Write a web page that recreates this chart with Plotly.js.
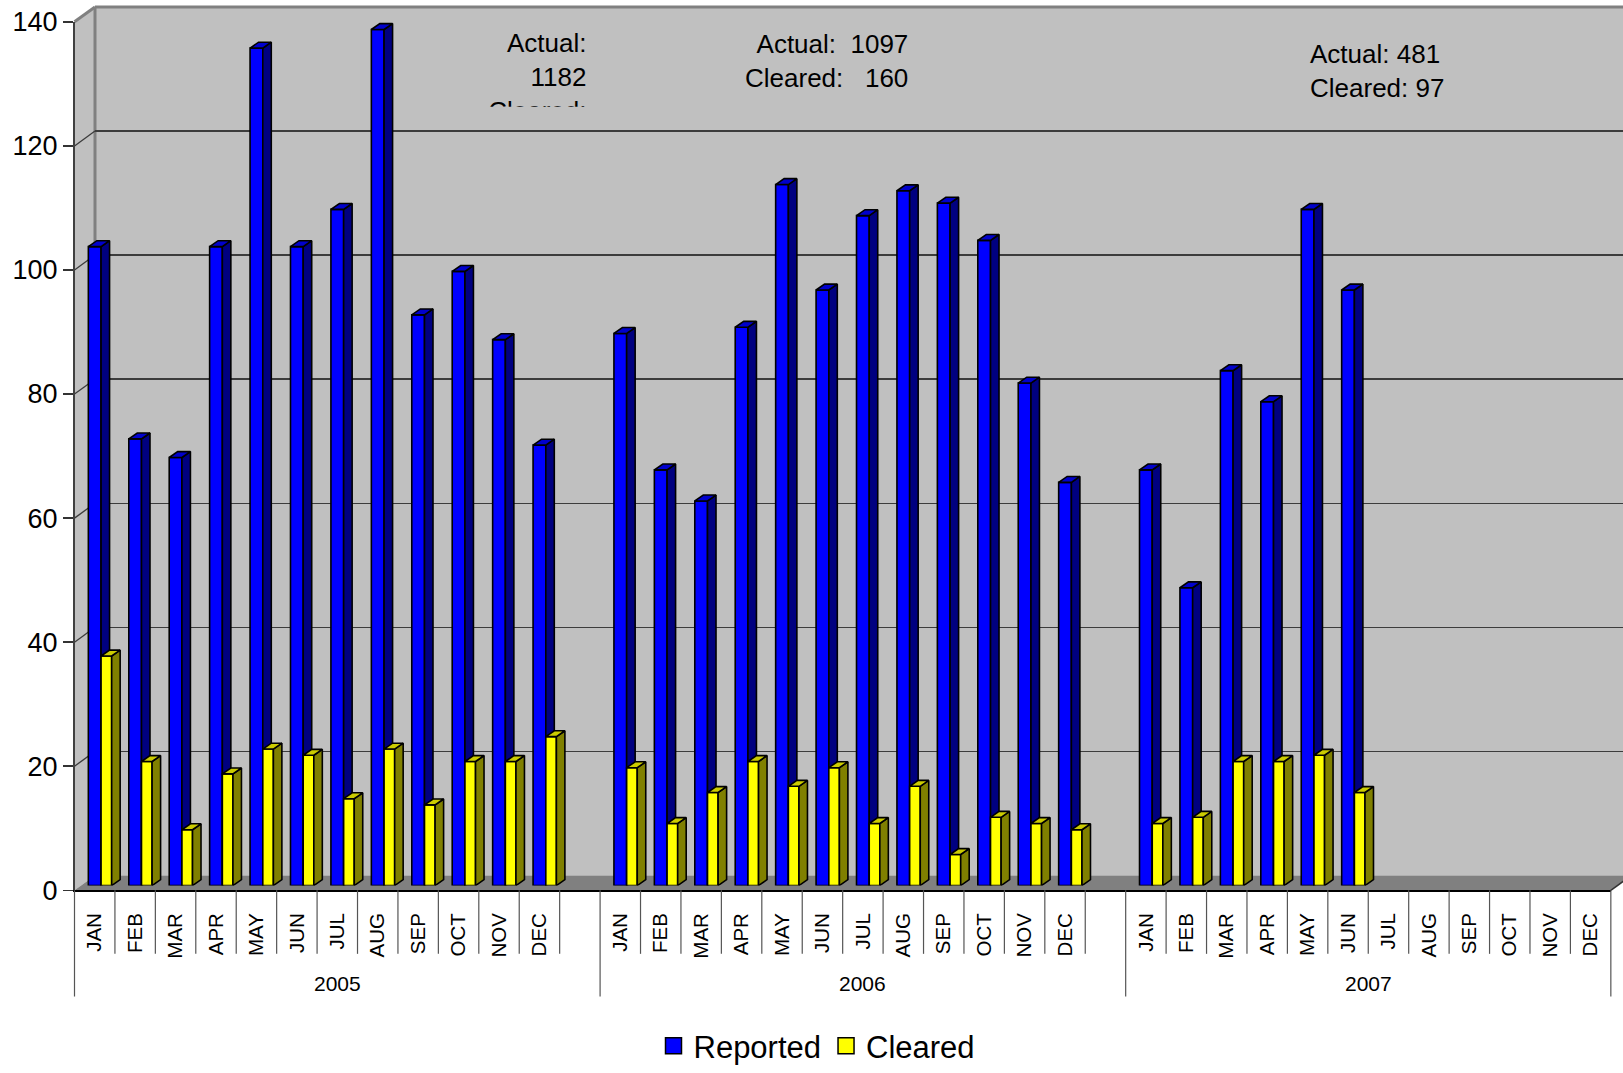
<!DOCTYPE html>
<html><head><meta charset="utf-8">
<script src="https://cdn.plot.ly/plotly-3.0.1.min.js"></script>
<style>html,body{margin:0;padding:0;background:#fff}#chart{width:1623px;height:1073px}</style>
</head><body><div id="chart"></div>
<script>
// ---------------- data ----------------
const years = ['2005', '2006', '2007'];
const months = ['JAN','FEB','MAR','APR','MAY','JUN','JUL','AUG','SEP','OCT','NOV','DEC'];
const reported2005 = [103, 72, 69, 103, 135, 103, 109, 138, 92, 99, 88, 71];
const cleared2005  = [37, 20, 9, 18, 22, 21, 14, 22, 13, 20, 20, 24];
const reported2006 = [89, 67, 62, 90, 113, 96, 108, 112, 110, 104, 81, 65];
const cleared2006  = [19, 10, 15, 20, 16, 19, 10, 16, 5, 11, 10, 9];
const reported2007 = [67, 48, 83, 78, 109, 96, null, null, null, null, null, null];
const cleared2007  = [10, 11, 20, 20, 21, 15, null, null, null, null, null, null];
const yTicks = [0, 20, 40, 60, 80, 100, 120, 140];
const noteTexts = [
  'Actual:<br>1182<br>Cleared:<br>240',
  'Actual:\u00a0\u00a01097<br>Cleared:\u00a0\u00a0\u00a0160',
  'Actual: 481<br>Cleared: 97'
];
const seriesNames = ['Reported', 'Cleared'];

// ---------------- geometry / style ----------------
const FONT = 'Liberation Sans, Arial, sans-serif';
const W = 1623, H = 1073;
const SLOT = 40.43, PXU = 6.25;
const FX0 = 74.5, FY0 = 897;       // front origin (category -0.5, value 0)
const DX = 20.5, DY = 15;          // depth vector to back wall
const BAR_D = 0.32;                // depth fraction of bars
const VMAX = 140;
const px = x => x / W, py = y => 1 - y / H;

// categories with a blank slot after each year except the last
const catX = [], catText = [], groupStart = [], groupLen = [];
let idx = 0;
years.forEach((y, g) => {
  groupStart.push(idx);
  months.forEach(m => { catX.push(idx); catText.push(m); idx++; });
  if (g < years.length - 1) idx++;
  groupLen.push(idx - groupStart[g]);
});
const NCAT = idx;
const FX1 = FX0 + NCAT * SLOT;

function xAx(x0) {
  let x1 = x0 + NCAT * SLOT, r1 = NCAT - 0.5;
  if (x1 > W) { r1 = -0.5 + (W - x0) / SLOT; x1 = W; }
  return {domain: [x0 / W, x1 / W], range: [-0.5, r1]};
}
function yAx(y0, vmax) {
  return {domain: [py(y0), py(y0 - vmax * PXU)], range: [0, vmax]};
}
const hidden = {showgrid:false, zeroline:false, showticklabels:false, ticks:'', showline:false, fixedrange:true};

// bar geometry (in category units)
const BAR = [
  {off: -0.32, w: 0.315, front: '#0000FF', side: '#000080', top: '#0000CC', ax: ['x2','y2']},
  {off: -0.005, w: 0.262, front: '#FFFF00', side: '#808000', top: '#CCCC00', ax: ['x3','y3']}
];
const BDX = 0.21, BDY = 0.95;

const reportedAll = [reported2005, reported2006, reported2007];
const clearedAll = [cleared2005, cleared2006, cleared2007];
function series(arrs) {
  const xs = [], vs = [];
  arrs.forEach((a, g) => a.forEach((v, m) => { if (v !== null) { xs.push(groupStart[g] + m); vs.push(v); } }));
  return {xs, vs};
}
const S = [series(reportedAll), series(clearedAll)];

const traces = [];
traces.push({type:'scatter', x:[null], y:[null], xaxis:'x', yaxis:'y', showlegend:false, hoverinfo:'skip'});

S.forEach((s, k) => {
  const b = BAR[k];
  traces.push({type:'bar', x:s.xs, y:s.vs, xaxis:b.ax[0], yaxis:b.ax[1], width:b.w, offset:b.off,
    marker:{color:b.front, line:{color:'#000', width:1.6}}, showlegend:false, hoverinfo:'skip'});
  const sx = [], sy = [], tx = [], ty = [];
  s.xs.forEach((x, i) => {
    const v = s.vs[i], L = x + b.off, R = L + b.w;
    sx.push(R, R + BDX, R + BDX, R, R, null); sy.push(0, BDY, v + BDY, v, 0, null);
    tx.push(L, R, R + BDX, L + BDX, L, null); ty.push(v, v, v + BDY, v + BDY, v, null);
  });
  traces.push({type:'scatter', mode:'lines', x:sx, y:sy, xaxis:b.ax[0], yaxis:b.ax[1], fill:'toself',
    fillcolor:b.side, line:{color:'#000', width:1.6}, showlegend:false, hoverinfo:'skip'});
  traces.push({type:'scatter', mode:'lines', x:tx, y:ty, xaxis:b.ax[0], yaxis:b.ax[1], fill:'toself',
    fillcolor:b.top, line:{color:'#000', width:1.6}, showlegend:false, hoverinfo:'skip'});
});
// legend entries
S.forEach((s, k) => {
  traces.push({type:'scatter', mode:'markers', x:[null], y:[null], xaxis:'x4', yaxis:'y4', name:seriesNames[k],
    marker:{symbol:'square', size:16, color:BAR[k].front, line:{color:'#000', width:1.5}}, hoverinfo:'skip'});
});
// clipped text box (the source text box is too small, so its last lines are cut off)
const CLIP_Y = 107.5;
traces.push({type:'scatter', mode:'text', x:[586.5], y:[97], text:[noteTexts[0]], textposition:'middle left',
  textfont:{family:FONT, size:26, color:'#000'}, xaxis:'x5', yaxis:'y5', cliponaxis:true, showlegend:false, hoverinfo:'skip'});

// ---------------- shapes ----------------
const shapes = [];
const backTop = FY0 - DY - VMAX * PXU, backBot = FY0 - DY, frontTop = FY0 - VMAX * PXU;
shapes.push({type:'rect', xref:'paper', yref:'paper', x0:px(FX0 + DX), x1:1, y0:py(backBot), y1:py(backTop),
  fillcolor:'#C0C0C0', line:{width:0}, layer:'below'});
shapes.push({type:'path', xref:'paper', yref:'paper', layer:'below', fillcolor:'#C0C0C0', line:{width:0},
  path:`M${px(FX0)},${py(FY0)} L${px(FX0)},${py(frontTop)} L${px(FX0+DX)},${py(backTop)} L${px(FX0+DX)},${py(backBot)} Z`});
shapes.push({type:'path', xref:'paper', yref:'paper', layer:'below', fillcolor:'#808080', line:{width:0},
  path:`M${px(FX0)},${py(FY0)} L${px(FX1)},${py(FY0)} L${px(FX1+DX)},${py(backBot)} L${px(FX0+DX)},${py(backBot)} Z`});
shapes.push({type:'line', xref:'paper', yref:'paper', layer:'below', x0:px(FX1), y0:py(FY0), x1:px(FX1+DX), y1:py(backBot), line:{color:'#333', width:1.5}});
// wall borders
const grey = {color:'#808080', width:3};
shapes.push({type:'line', xref:'paper', yref:'paper', layer:'below', x0:px(FX0+DX), y0:py(backTop), x1:1, y1:py(backTop), line:grey});
shapes.push({type:'line', xref:'paper', yref:'paper', layer:'below', x0:px(FX0+DX), y0:py(backTop), x1:px(FX0+DX), y1:py(backBot), line:grey});
shapes.push({type:'line', xref:'paper', yref:'paper', layer:'below', x0:px(FX0), y0:py(frontTop), x1:px(FX0+DX), y1:py(backTop), line:grey});
// side wall gridline diagonals
yTicks.filter(v => v > 0 && v < VMAX).forEach(v => {
  shapes.push({type:'line', xref:'paper', yref:'paper', layer:'below', x0:px(FX0), y0:py(FY0 - v*PXU),
    x1:px(FX0+DX), y1:py(FY0 - DY - v*PXU), line:{color:'#3c3c3c', width:1.3}});
});
// category separators
const SEP_MONTH = 961, SEP_YEAR = 1004;
years.forEach((y, g) => {
  const s = groupStart[g], n = groupLen[g];
  for (let i = 0; i < n - 1; i++) {
    const xp = px(FX0 + (s + i + 1) * SLOT);
    shapes.push({type:'line', xref:'paper', yref:'paper', x0:xp, x1:xp, y0:py(FY0), y1:py(SEP_MONTH), line:{color:'#555', width:1.2}});
  }
});
const yearBounds = groupStart.concat([NCAT]);
yearBounds.forEach(b => {
  const xp = px(FX0 + b * SLOT);
  shapes.push({type:'line', xref:'paper', yref:'paper', x0:xp, x1:xp, y0:py(FY0), y1:py(SEP_YEAR), line:{color:'#555', width:1.2}});
});

// ---------------- annotations ----------------
const annotations = years.map((y, g) => ({
  text:y, xref:'paper', yref:'paper', x:px(FX0 + (groupStart[g] + groupLen[g] / 2) * SLOT), y:py(990.5),
  showarrow:false, xanchor:'center', yanchor:'middle', font:{family:FONT, size:21, color:'#000'}
}));
annotations.push({text:noteTexts[1], xref:'paper', yref:'paper', x:px(910), y:py(61), showarrow:false,
  xanchor:'right', yanchor:'middle', align:'right', font:{family:FONT, size:26, color:'#000'}});
annotations.push({text:noteTexts[2], xref:'paper', yref:'paper', x:px(1308), y:py(72), showarrow:false,
  xanchor:'left', yanchor:'middle', align:'left', font:{family:FONT, size:26, color:'#000'}});

// ---------------- layout ----------------
const barX = xAx(FX0 + BAR_D * DX), barY = yAx(FY0 - BAR_D * DY, VMAX);
const layout = {
  width: W, height: H, margin:{l:0, r:0, t:0, b:0},
  paper_bgcolor:'#fff', plot_bgcolor:'rgba(0,0,0,0)',
  font:{family:FONT, color:'#000'},
  xaxis: Object.assign({}, hidden, xAx(FX0 + DX), {anchor:'y'}),
  yaxis: Object.assign({}, hidden, yAx(FY0 - DY, VMAX), {anchor:'x', showgrid:true, tickvals:yTicks.filter(v => v > 0 && v < VMAX), gridcolor:'#3c3c3c', gridwidth:1.3}),
  xaxis2: Object.assign({}, hidden, barX, {anchor:'y2'}),
  yaxis2: Object.assign({}, hidden, barY, {anchor:'x2'}),
  xaxis3: Object.assign({}, hidden, barX, {anchor:'y3'}),
  yaxis3: Object.assign({}, hidden, barY, {anchor:'x3'}),
  xaxis4: Object.assign({}, hidden, xAx(FX0), {anchor:'y4', showticklabels:true, tickmode:'array', tickvals:catX, ticktext:catText,
    tickangle:-90, tickfont:{family:FONT, size:20.5, color:'#000'}, ticklabelstandoff:13, showline:true, linecolor:'#000', linewidth:1.6}),
  yaxis4: Object.assign({}, hidden, yAx(FY0, VMAX), {anchor:'x4', showticklabels:true, tickmode:'array', tickvals:yTicks,
    ticks:'outside', ticklen:10, tickwidth:1.5, tickcolor:'#333', tickfont:{family:FONT, size:27, color:'#000'},
    showline:true, linecolor:'#404040', linewidth:1.6}),
  xaxis5: Object.assign({}, hidden, {domain:[0, 1], range:[0, W], anchor:'y5'}),
  yaxis5: Object.assign({}, hidden, {domain:[py(CLIP_Y), 1], range:[CLIP_Y, 0], anchor:'x5'}),
  legend: {orientation:'h', x:px(817), xanchor:'center', y:py(1054), yanchor:'middle',
    font:{family:FONT, size:31, color:'#000'}, bgcolor:'rgba(0,0,0,0)'},
  showlegend: true,
  shapes: shapes,
  annotations: annotations
};

Plotly.newPlot('chart', traces, layout, {staticPlot:true, displayModeBar:false});
</script>
</body></html>
